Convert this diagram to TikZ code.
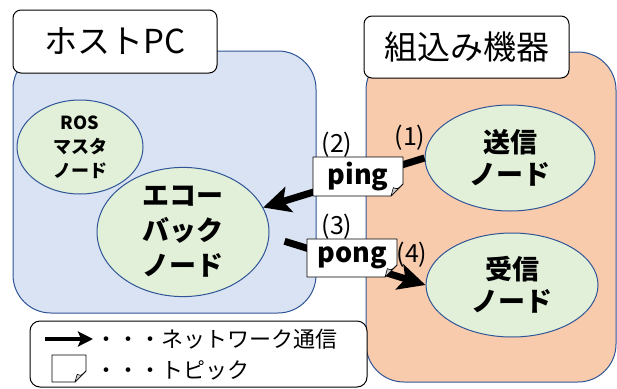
\documentclass[tikz,border=0pt]{standalone}
\usepackage{fontspec}
\setmainfont{Noto Sans CJK JP}
\usetikzlibrary{arrows.meta,shapes.geometric,positioning}

% topic note with folded corner: name, centre, width, height, fold, text
\newcommand\topicnote[6]{%
  \coordinate (#1 centre) at #2;
  \coordinate (#1 corner) at ([xshift=#3/2,yshift=-#4/2]#1 centre);
  \draw[note] ([xshift=-#3/2,yshift=#4/2]#1 centre) -- ([xshift=#3/2,yshift=#4/2]#1 centre)
    -- ([yshift=#5]#1 corner) -- ([xshift=-#5]#1 corner)
    -- ([xshift=-#3/2,yshift=-#4/2]#1 centre) -- cycle;
  \draw[fold] ([yshift=#5]#1 corner)
    .. controls ([xshift=-0.45*#5,yshift=0.55*#5]#1 corner) .. ([xshift=-0.8*#5,yshift=0.7*#5]#1 corner)
    -- ([xshift=-#5]#1 corner) -- cycle;
  \node[topic] (#1) at (#1 centre) {#6};}

\begin{document}
\begin{tikzpicture}
  [x=1pt,y=-1pt,line join=round,
  % Styles
  region/.style={rectangle,rounded corners=38pt,draw=edgeblue,line width=1pt},
  title box/.style={rectangle,rounded corners=8pt,draw=black,fill=white,line width=1pt,
    inner sep=0pt,font=\fontsize{33}{40}\selectfont},
  ros node/.style={ellipse,draw=edgeblue,fill=nodegreen,line width=1pt,inner sep=0pt,align=center},
  flow/.style={line width=7pt,-{Stealth[length=27pt,width=26pt,inset=6pt]}},
  note/.style={draw=black,fill=white,line width=0.8pt},
  fold/.style={fill=gray!40,draw=black,line width=0.6pt},
  topic/.style={inner sep=0pt,font=\fontsize{27}{30}\selectfont\bfseries},
  step no/.style={inner sep=0pt,font=\fontsize{25}{28}\selectfont},
  legend text/.style={anchor=west,inner sep=0pt,font=\fontsize{22}{24}\selectfont}]
  % Colors
  \definecolor{hostblue}{HTML}{DAE3F3}
  \definecolor{deviceorange}{HTML}{F8CBAD}
  \definecolor{nodegreen}{HTML}{E2F0D9}
  \definecolor{edgeblue}{HTML}{2F5597}
  \useasboundingbox (0,0) rectangle (617,388);
  % The graphic
  \node[region,fill=hostblue,minimum width=303pt,minimum height=262pt] (host) at (164.5,182) {};
  \node[region,fill=deviceorange,minimum width=250pt,minimum height=330pt] (device) at (491,217) {};
  \node[title box,minimum width=204pt,minimum height=63pt] (host title) at (115,41.5) {ホストPC};
  \node[title box,minimum width=205pt,minimum height=62pt] (device title) at (466.5,47) {組込み機器};
  % ROS nodes
  \node[ros node,minimum width=126pt,minimum height=94pt,font=\fontsize{18}{24}\selectfont\bfseries]
    (master) at (80,147) {ROS\\マスタ\\ノード};
  \node[ros node,minimum width=172pt,minimum height=122pt,font=\fontsize{27}{35}\selectfont\bfseries]
    (echo) at (183,232) {エコー\\バック\\ノード};
  \node[ros node,minimum width=170pt,minimum height=106pt,font=\fontsize{27}{32}\selectfont\bfseries]
    (send) at (510,158) {送信\\ノード};
  \node[ros node,minimum width=172pt,minimum height=104pt,font=\fontsize{27}{32}\selectfont\bfseries]
    (recv) at (512,285) {受信\\ノード};
  % Messages
  \draw[flow] (send.west) -- (echo.17);
  \draw[flow,shorten <=16pt] (echo.-3) -- (recv.west);
  \topicnote{ping}{(358,176.5)}{90pt}{39pt}{12pt}{ping}
  \topicnote{pong}{(352,258)}{90pt}{38pt}{12pt}{pong}
  \node[step no] (step1) at (410,138) {(1)};
  \node[step no] (step2) at (337,145) {(2)};
  \node[step no] (step3) at (337,227) {(3)};
  \node[step no] (step4) at (412,255) {(4)};
  % Legend
  \node[rectangle,rounded corners=10pt,draw=black,fill=white,line width=1pt,
    minimum width=337pt,minimum height=66pt] (legend) at (198.5,354) {};
  \coordinate (leg tail) at (45,339);
  \coordinate (leg head) at (93,339);
  \draw[line width=4pt,-{Stealth[length=15pt,width=15pt,inset=3pt]}] (leg tail) -- (leg head);
  \node[legend text] (leg net) at (95,339) {・・・ネットワーク通信};
  \topicnote{leg topic}{(69,368.5)}{34pt}{27pt}{11pt}{}
  \node[legend text] (leg topic text) at (95,370) {・・・トピック};
\end{tikzpicture}
\end{document}
